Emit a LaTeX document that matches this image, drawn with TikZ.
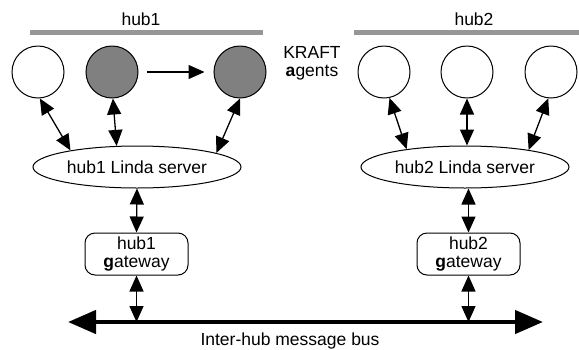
\documentclass[tikz,border=0pt]{standalone}
\usepackage{fontspec}
\setmainfont{Liberation Sans}
\usetikzlibrary{arrows.meta,shapes.geometric}
\definecolor{bargray}{RGB}{150,150,150}
\definecolor{agentgray}{RGB}{128,128,128}
\tikzset{
  agent/.style={circle,draw,line width=1pt,minimum size=52pt,inner sep=0pt},
  busyagent/.style={agent,fill=agentgray},
  lindasrv/.style={ellipse,draw,line width=1pt,minimum width=208pt,minimum height=42pt,inner sep=0pt},
  gatebox/.style={rectangle,rounded corners=10pt,draw,line width=1pt,minimum width=103pt,minimum height=42pt,align=center,inner sep=1pt},
  dbl/.style={line width=1.3pt,{Triangle[length=16pt,width=14pt]}-{Triangle[length=16pt,width=14pt]}},
  sgl/.style={line width=1.3pt,-{Triangle[length=16pt,width=14pt]}},
  hubbar/.style={line width=5pt,bargray},
  busline/.style={line width=4.5pt,{Triangle[length=28pt,width=23pt]}-{Triangle[length=28pt,width=23pt]}},
  lbl/.style={inner sep=0pt,anchor=base}
}
\begin{document}
\begin{tikzpicture}[x=1pt,y=-1pt,font=\fontsize{17.5}{18}\selectfont]
\useasboundingbox (0,0) rectangle (579,349);
% hub labels and bars
\node[lbl] (h1) at (141,25) {hub1};
\node[lbl] (h2) at (474,25) {hub2};
\coordinate (b1L) at (30,32);
\coordinate (b1R) at (263,32);
\coordinate (b2L) at (354,32);
\coordinate (b2R) at (579,32);
\draw[hubbar] (b1L) -- (b1R);
\draw[hubbar] (b2L) -- (b2R);
% agents
\node[agent] (a1) at (38,72) {};
\node[busyagent] (a2) at (112,72) {};
\node[busyagent] (a3) at (240,72) {};
\node[agent] (c1) at (384,72) {};
\node[agent] (c2) at (467,72) {};
\node[agent] (c3) at (551,72) {};
\node[align=center,inner sep=0pt] (kr) at (312,63) {KRAFT\\\textbf{a}gents};
% linda servers
\node[lindasrv] (l1) at (137,167) {hub1 Linda server};
\node[lindasrv] (l2) at (465,167) {hub2 Linda server};
% gateways
\node[gatebox] (g1) at (136.5,254) {hub1\\\textbf{g}ateway};
\node[gatebox] (g2) at (468.5,254) {hub2\\\textbf{g}ateway};
% bus
\coordinate (busL) at (68,322);
\coordinate (busR) at (543,322);
\draw[busline] (busL) -- (busR);
\node[lbl] (busl) at (290,345) {Inter-hub message bus};
% connectors
\draw[sgl,shorten <=8pt,shorten >=9pt] (a2.east) -- (a3.west);
\draw[dbl] (a1.-86) -- (l1.166);
\draw[dbl] (a2.-88) -- (l1.134);
\draw[dbl] (a3.-90) -- (l1.10);
\draw[dbl] (c1.-78) -- (l2.163);
\draw[dbl] (c2.south) -- (c2.south |- l2.north);
\draw[dbl] (c3.-96) -- (l2.15);
\draw[dbl] (l1.south) -- (g1.north);
\draw[dbl] (g2.north |- l2.south) -- (g2.north);
\draw[dbl] (g1.south) -- (g1.south |- busL);
\draw[dbl] (g2.south) -- (g2.south |- busL);
\end{tikzpicture}
\end{document}
